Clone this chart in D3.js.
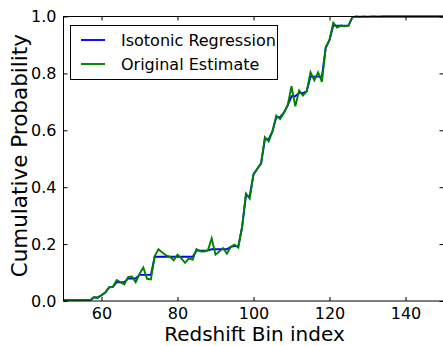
<!DOCTYPE html>
<html>
<head>
<meta charset="utf-8">
<script src="https://cdn.jsdelivr.net/npm/d3@7"></script>
<style>
  body { margin: 0; background: #fff; }
  svg { display: block; font-family: "DejaVu Sans", sans-serif; }
</style>
</head>
<body>
<div id="plot"></div>
<script>
// Data: redshift bin index 50..150
const bins = d3.range(50, 151);

const originalEstimate = [
  0.002, 0.002, 0.002, 0.003, 0.002, 0.003, 0.002, 0.003, 0.014, 0.011,
  0.020, 0.030, 0.048, 0.050, 0.074, 0.066, 0.058, 0.084, 0.086, 0.066,
  0.095, 0.118, 0.078, 0.076, 0.158, 0.182, 0.170, 0.160, 0.155, 0.143,
  0.163, 0.150, 0.134, 0.150, 0.145, 0.182, 0.175, 0.174, 0.178, 0.220,
  0.163, 0.174, 0.186, 0.166, 0.190, 0.198, 0.188, 0.260, 0.378, 0.360,
  0.445, 0.465, 0.484, 0.576, 0.561, 0.597, 0.652, 0.640, 0.662, 0.688,
  0.755, 0.684, 0.740, 0.722, 0.737, 0.804, 0.776, 0.804, 0.770, 0.890,
  0.918, 0.978, 0.961, 0.968, 0.966, 0.968, 0.997, 1.000, 0.998, 1.000,
  0.998, 1.000, 1.000, 0.999, 1.000, 1.000, 1.000, 1.000, 1.000, 1.000,
  1.000, 1.000, 1.000, 1.000, 1.000, 1.000, 1.000, 1.000, 1.000, 1.000,
  1.000
];

const isotonic = [
  0.0024, 0.0024, 0.0024, 0.0024, 0.0024, 0.0024, 0.0024, 0.0024, 0.0125, 0.0125,
  0.020, 0.030, 0.048, 0.050, 0.066, 0.066, 0.066, 0.079, 0.079, 0.079,
  0.092, 0.092, 0.092, 0.092, 0.1555, 0.1555, 0.1555, 0.1555, 0.1555, 0.1555,
  0.1555, 0.1555, 0.1555, 0.1555, 0.1555, 0.177, 0.177, 0.177, 0.178, 0.182,
  0.182, 0.182, 0.182, 0.182, 0.190, 0.193, 0.193, 0.260, 0.369, 0.369,
  0.445, 0.465, 0.484, 0.5685, 0.5685, 0.597, 0.646, 0.646, 0.662, 0.688,
  0.7195, 0.7195, 0.731, 0.731, 0.737, 0.7885, 0.7885, 0.7885, 0.7885, 0.890,
  0.918, 0.968, 0.968, 0.968, 0.968, 0.968, 0.997, 0.9995, 0.9995, 0.9995,
  0.9995, 0.9995, 0.9995, 0.9995, 1.000, 1.000, 1.000, 1.000, 1.000, 1.000,
  1.000, 1.000, 1.000, 1.000, 1.000, 1.000, 1.000, 1.000, 1.000, 1.000,
  1.000
];

const xTicks = [60, 80, 100, 120, 140];
const yTicks = [0.0, 0.2, 0.4, 0.6, 0.8, 1.0];

const legendItems = [
  { label: "Isotonic Regression", color: "#0000ff" },
  { label: "Original Estimate", color: "#008000" }
];

// Dimensions
const w = 443;
const h = 346;
const plot = { left: 63.5, right: 443.5, top: 16.5, bottom: 301 };

const svg = d3.select("div#plot")
  .append("svg")
  .attr("width", w)
  .attr("height", h);

// Scales
const xScale = d3.scaleLinear().domain([50, 150]).range([plot.left, plot.right]);
const yScale = d3.scaleLinear().domain([0, 1]).range([plot.bottom, plot.top]);

// Lines
const line = d3.line()
  .x(d => xScale(d[0]))
  .y(d => yScale(d[1]));

svg.append("clipPath").attr("id", "clip")
  .append("rect")
  .attr("x", plot.left).attr("y", plot.top - 2)
  .attr("width", plot.right - plot.left).attr("height", plot.bottom - plot.top + 2);

const lines = svg.append("g").attr("clip-path", "url(#clip)");

lines.append("path")
  .datum(bins.map((b, i) => [b, isotonic[i]]))
  .attr("fill", "none")
  .attr("stroke", "#0000ff")
  .attr("stroke-width", 1.9)
  .attr("d", line);

lines.append("path")
  .datum(bins.map((b, i) => [b, originalEstimate[i]]))
  .attr("fill", "none")
  .attr("stroke", "#008000")
  .attr("stroke-width", 1.9)
  .attr("d", line);

// Axes: ticks point inward on all four sides
const tickLen = 4;
const fmt = d3.format(".1f");

const xBottom = svg.append("g")
  .attr("transform", `translate(0, ${plot.bottom})`)
  .call(d3.axisBottom(xScale).tickValues(xTicks).tickSizeInner(-tickLen).tickSizeOuter(0).tickPadding(7));
const xTop = svg.append("g")
  .attr("transform", `translate(0, ${plot.top})`)
  .call(d3.axisTop(xScale).tickValues(xTicks).tickSizeInner(-tickLen).tickSizeOuter(0).tickFormat(""));
const yLeft = svg.append("g")
  .attr("transform", `translate(${plot.left}, 0)`)
  .call(d3.axisLeft(yScale).tickValues(yTicks).tickSizeInner(-tickLen).tickSizeOuter(0).tickPadding(7).tickFormat(fmt));
const yRight = svg.append("g")
  .attr("transform", `translate(${plot.right}, 0)`)
  .call(d3.axisRight(yScale).tickValues(yTicks).tickSizeInner(-tickLen).tickSizeOuter(0).tickFormat(""));

[xBottom, xTop, yLeft, yRight].forEach(a => {
  a.select(".domain").remove();
  a.selectAll(".tick line").attr("stroke", "#000");
  a.selectAll(".tick text")
    .attr("fill", "#000")
    .style("font-size", "16px")
    .style("font-family", "DejaVu Sans, sans-serif");
});

// Frame
svg.append("rect")
  .attr("x", plot.left).attr("y", plot.top)
  .attr("width", plot.right - plot.left).attr("height", plot.bottom - plot.top)
  .attr("fill", "none")
  .attr("stroke", "#000")
  .attr("stroke-width", 1);

// Axis labels
svg.append("text")
  .attr("x", (plot.left + plot.right) / 2 + 1)
  .attr("y", 341)
  .attr("text-anchor", "middle")
  .style("font-size", "20px")
  .text("Redshift Bin index");

svg.append("text")
  .attr("transform", `translate(27, ${(plot.top + plot.bottom) / 2 - 3}) rotate(-90)`)
  .attr("text-anchor", "middle")
  .style("font-size", "21.5px")
  .text("Cumulative Probability");

// Legend
const legend = svg.append("g");
legend.append("rect")
  .attr("x", 70.5).attr("y", 25.5)
  .attr("width", 207).attr("height", 54)
  .attr("fill", "#fff")
  .attr("stroke", "#000")
  .attr("stroke-width", 1);

legendItems.forEach((d, i) => {
  const cy = 40 + i * 24;
  legend.append("line")
    .attr("x1", 81).attr("x2", 105)
    .attr("y1", cy).attr("y2", cy)
    .attr("stroke", d.color)
    .attr("stroke-width", 1.9);
  legend.append("text")
    .attr("x", 121)
    .attr("y", cy + 6)
    .style("font-size", "16px")
    .text(d.label);
});
</script>
</body>
</html>
